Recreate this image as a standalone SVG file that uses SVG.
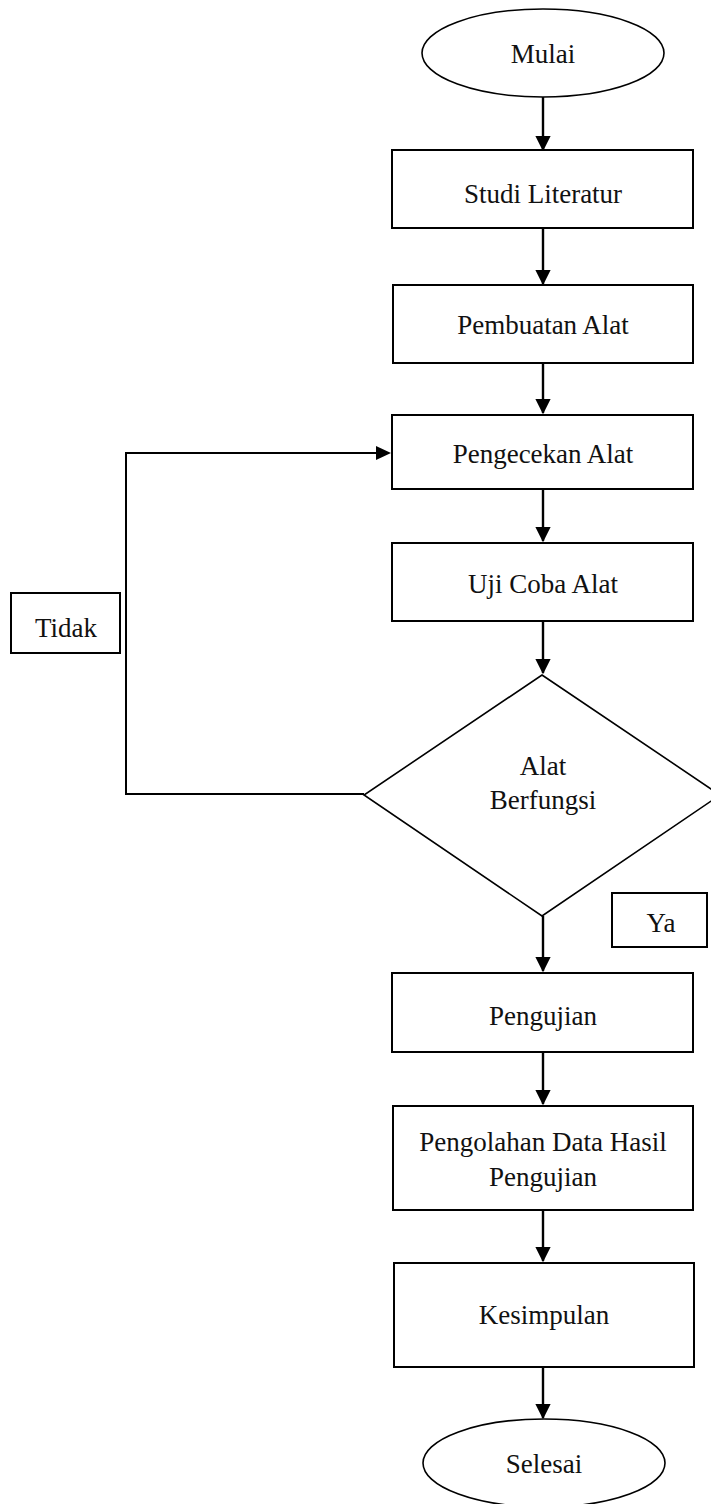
<svg xmlns="http://www.w3.org/2000/svg" width="711" height="1504" viewBox="0 0 711 1504">
<style>
.box{fill:#fff;stroke:#000;stroke-width:2}
.thin{fill:#fff;stroke:#000;stroke-width:1.6}
.t{font-family:"Liberation Serif","Times New Roman",serif;font-size:27px;fill:#111;text-anchor:middle}
.c{fill:none;stroke:#000;stroke-width:2.4}
.l{fill:none;stroke:#000;stroke-width:2}
</style>
<defs>
<marker id="ah" markerWidth="6.5" markerHeight="6.5" refX="6" refY="3.25" orient="auto" markerUnits="strokeWidth">
<path d="M0,0 L6.5,3.25 L0,6.5 Z" fill="#000"/>
</marker>
</defs>
<rect width="711" height="1504" fill="#fff"/>
<g id="connectors">
<line class="c" x1="543" y1="97" x2="543" y2="150" marker-end="url(#ah)"/>
<line class="c" x1="543" y1="228" x2="543" y2="284" marker-end="url(#ah)"/>
<line class="c" x1="543" y1="363" x2="543" y2="413" marker-end="url(#ah)"/>
<line class="c" x1="543" y1="489" x2="543" y2="541" marker-end="url(#ah)"/>
<line class="c" x1="543" y1="621" x2="543" y2="673" marker-end="url(#ah)"/>
<line class="c" x1="543" y1="916" x2="543" y2="971" marker-end="url(#ah)"/>
<line class="c" x1="543" y1="1052" x2="543" y2="1104" marker-end="url(#ah)"/>
<line class="c" x1="543" y1="1210" x2="543" y2="1261" marker-end="url(#ah)"/>
<line class="c" x1="543" y1="1367" x2="543" y2="1418" marker-end="url(#ah)"/>
<polyline class="l" points="364,794 126,794 126,453 380,453"/>
<path d="M376,446 L391,453 L376,460 Z" fill="#000"/>
</g>
<g id="mulai">
<ellipse class="thin" cx="543" cy="53" rx="121" ry="44"/>
<text class="t" x="543" y="63">Mulai</text>
</g>
<g id="studi">
<rect class="box" x="392" y="150" width="301" height="78"/>
<text class="t" x="543" y="203">Studi Literatur</text>
</g>
<g id="pembuatan">
<rect class="box" x="393" y="285" width="300" height="78"/>
<text class="t" x="543" y="334">Pembuatan Alat</text>
</g>
<g id="pengecekan">
<rect class="box" x="392" y="415" width="301" height="74"/>
<text class="t" x="543" y="463">Pengecekan Alat</text>
</g>
<g id="ujicoba">
<rect class="box" x="392" y="543" width="301" height="78"/>
<text class="t" x="543" y="593">Uji Coba Alat</text>
</g>
<g id="decision">
<polygon class="thin" points="542,675 720,795 542,916 364,795"/>
<text class="t" x="543" y="775">Alat</text>
<text class="t" x="543" y="809">Berfungsi</text>
</g>
<g id="tidak">
<rect class="box" x="11" y="593" width="109" height="60"/>
<text class="t" x="66" y="637">Tidak</text>
</g>
<g id="ya">
<rect class="box" x="612" y="893" width="95" height="54"/>
<text class="t" x="661" y="932">Ya</text>
</g>
<g id="pengujian">
<rect class="box" x="392" y="973" width="301" height="79"/>
<text class="t" x="543" y="1025">Pengujian</text>
</g>
<g id="pengolahan">
<rect class="box" x="393" y="1106" width="300" height="104"/>
<text class="t" x="543" y="1151">Pengolahan Data Hasil</text>
<text class="t" x="543" y="1186">Pengujian</text>
</g>
<g id="kesimpulan">
<rect class="box" x="394" y="1263" width="300" height="104"/>
<text class="t" x="544" y="1324">Kesimpulan</text>
</g>
<g id="selesai">
<ellipse class="thin" cx="544" cy="1463" rx="121" ry="44"/>
<text class="t" x="544" y="1473">Selesai</text>
</g>
</svg>
